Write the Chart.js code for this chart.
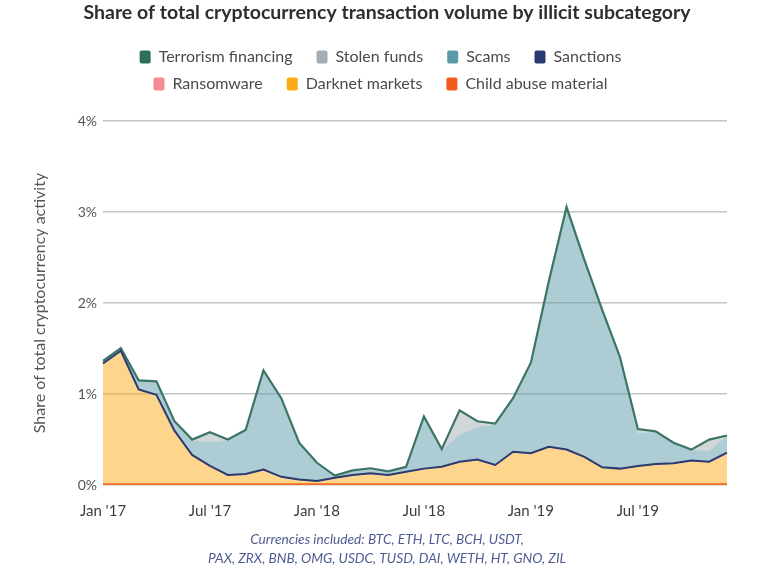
<!DOCTYPE html>
<html>
<head>
<meta charset="utf-8">
<script src="https://cdn.jsdelivr.net/npm/chart.js@4.4.1/dist/chart.umd.min.js"></script>
<style>
  html, body { margin: 0; padding: 0; background: #ffffff; }
  #wrap { width: 774px; height: 588px; position: relative; }
</style>
</head>
<body>
<div id="wrap"><canvas id="c" width="774" height="588"></canvas></div>
<script>
// ---------- DATA (% of total volume) ----------
const months = [
  "Jan '17","Feb '17","Mar '17","Apr '17","May '17","Jun '17","Jul '17","Aug '17","Sep '17","Oct '17","Nov '17","Dec '17",
  "Jan '18","Feb '18","Mar '18","Apr '18","May '18","Jun '18","Jul '18","Aug '18","Sep '18","Oct '18","Nov '18","Dec '18",
  "Jan '19","Feb '19","Mar '19","Apr '19","May '19","Jun '19","Jul '19","Aug '19","Sep '19","Oct '19","Nov '19","Dec '19"
];
const tickLabels = ["Jan '17", "Jul '17", "Jan '18", "Jul '18", "Jan '19", "Jul '19"];
const yTicks = [0, 1, 2, 3, 4];

const childAbuse = [0.005,0.005,0.005,0.005,0.005,0.005,0.005,0.005,0.005,0.005,0.005,0.005,
                    0.005,0.005,0.005,0.005,0.005,0.005,0.005,0.005,0.005,0.005,0.005,0.005,
                    0.005,0.005,0.005,0.005,0.005,0.005,0.005,0.005,0.005,0.005,0.005,0.005];
const darknet = [1.319,1.459,1.034,0.974,0.584,0.314,0.194,0.094,0.104,0.154,0.074,0.044,
                 0.029,0.064,0.094,0.112,0.094,0.130,0.164,0.184,0.240,0.264,0.204,0.350,
                 0.334,0.404,0.374,0.294,0.179,0.164,0.194,0.214,0.224,0.254,0.240,0.339];
const ransomware = [0.003,0.003,0.003,0.003,0.003,0.003,0.003,0.003,0.003,0.003,0.003,0.003,
                    0.003,0.003,0.003,0.003,0.003,0.003,0.003,0.003,0.003,0.003,0.003,0.003,
                    0.003,0.003,0.003,0.003,0.003,0.003,0.003,0.003,0.003,0.003,0.003,0.003];
const sanctions = [0.008,0.008,0.008,0.008,0.008,0.008,0.008,0.008,0.008,0.008,0.008,0.008,
                   0.008,0.008,0.008,0.008,0.008,0.008,0.008,0.008,0.008,0.008,0.008,0.008,
                   0.008,0.008,0.008,0.008,0.008,0.008,0.008,0.008,0.008,0.008,0.008,0.008];
const scams = [0.025,0.025,0.096,0.145,0.100,0.160,0.260,0.380,0.480,1.086,0.860,0.400,
               0.195,0.020,0.047,0.042,0.036,0.049,0.570,0.190,0.294,0.360,0.440,0.584,
               0.990,1.810,2.660,2.160,1.725,1.220,0.360,0.355,0.220,0.115,0.121,0.185];
const stolenFunds = [0,0,0,0,0,0.005,0.105,0.005,0,0,0,0,
                     0,0,0,0.010,0,0,0,0,0.266,0.056,0.010,0,
                     0,0,0,0,0,0,0.040,0,0,0,0.118,0];
const terrorism = [0.004,0.004,0.004,0.004,0.004,0.004,0.004,0.004,0.004,0.004,0.004,0.004,
                   0.004,0.004,0.004,0.004,0.004,0.004,0.004,0.004,0.004,0.004,0.004,0.004,
                   0.004,0.004,0.004,0.004,0.004,0.004,0.004,0.004,0.004,0.004,0.004,0.004];

const titleText = 'Share of total cryptocurrency transaction volume by illicit subcategory';
const yTitle = 'Share of total cryptocurrency activity';
const footLines = ['Currencies included: BTC, ETH, LTC, BCH, USDT,',
                   'PAX, ZRX, BNB, OMG, USDC, TUSD, DAI, WETH, HT, GNO, ZIL'];

// ---------- STYLES ----------
const C = {
  terror: '#2f6e5f', stolen: '#a4adb4', scams: '#5b9aa8', sanctions: '#273a72',
  ransom: '#f28b93', darknet: '#fbab19', child: '#f35b1c'
};
function alpha(hex, a) {
  const n = parseInt(hex.slice(1), 16);
  return `rgba(${(n >> 16) & 255},${(n >> 8) & 255},${n & 255},${a})`;
}

Chart.defaults.font.family = 'Lato, "Open Sans", "DejaVu Sans", sans-serif';

// stacking order: bottom -> top
const series = [
  { label: 'Child abuse material', data: childAbuse, color: C.child, line: '#f26a21', lw: 2.5 },
  { label: 'Darknet markets', data: darknet, color: C.darknet, line: null, lw: 0 },
  { label: 'Ransomware', data: ransomware, color: C.ransom, line: null, lw: 0 },
  { label: 'Sanctions', data: sanctions, color: C.sanctions, line: '#2d3a6e', lw: 2 },
  { label: 'Scams', data: scams, color: C.scams, line: null, lw: 0 },
  { label: 'Stolen funds', data: stolenFunds, color: C.stolen, line: null, lw: 0 },
  { label: 'Terrorism financing', data: terrorism, color: C.terror, line: '#3a7566', lw: 2.2 }
];

const datasets = series.map((s, i) => ({
  label: s.label,
  data: s.data,
  legendColor: s.color,
  backgroundColor: alpha(s.color, 0.5),
  borderColor: s.line || 'rgba(0,0,0,0)',
  borderWidth: s.lw,
  fill: i === 0 ? 'origin' : '-1',
  pointRadius: 0,
  pointHoverRadius: 0,
  tension: 0
}));

// Legend: two centred rows (4 + 3) with wider gaps between items than between rows.
const ROW_W = 580, LEGEND_EXTRA = 19, TEXT_GAP = 13;
function withGap(ctx, fn) {
  const m = ctx.measureText;
  ctx.measureText = function (t) { const r = m.call(ctx, t); return { width: r.width + TEXT_GAP }; };
  try { return fn(); } finally { delete ctx.measureText; if (ctx.measureText !== m) ctx.measureText = m; }
}
const legendWrap = {
  id: 'legendWrap',
  beforeLayout(chart) {
    const lg = chart.legend;
    if (!lg || lg.__wrapped) return;
    lg.__wrapped = true;
    const fitRows = lg._fitRows, draw = lg._draw;
    if (typeof fitRows === 'function') {
      lg._fitRows = function (...a) {
        const mw = this.maxWidth;
        this.maxWidth = Math.min(mw, ROW_W);
        const h = withGap(this.ctx, () => fitRows.apply(this, a));
        this.maxWidth = mw;
        return h + LEGEND_EXTRA;
      };
    }
    if (typeof draw === 'function') {
      lg._draw = function (...a) {
        const l = this.left, r = this.right, c = (l + r) / 2;
        this.left = c - ROW_W / 2; this.right = c + ROW_W / 2;
        try { return withGap(this.ctx, () => draw.apply(this, a)); }
        finally { this.left = l; this.right = r; }
      };
    }
  }
};

new Chart(document.getElementById('c'), {
  type: 'line',
  data: { labels: months, datasets },
  plugins: [legendWrap],
  options: {
    responsive: false,
    devicePixelRatio: 1,
    animation: false,
    layout: { padding: { left: 47, right: 47, top: 0, bottom: 0 } },
    interaction: { mode: 'index', intersect: false },
    plugins: {
      filler: { drawTime: 'beforeDatasetsDraw' },
      tooltip: { enabled: false },
      title: {
        display: true, text: titleText, color: '#2e2e2e',
        font: { size: 19.5, weight: 'bold', lineHeight: 1.2 },
        padding: { top: 0.8, bottom: 13.8 }
      },
      legend: {
        display: true, position: 'top', reverse: true,
        labels: {
          boxWidth: 11, boxHeight: 13, padding: 11, color: '#4a4a4a',
          useBorderRadius: true, borderRadius: 2,
          font: { size: 16 },
          generateLabels(chart) {
            return chart.data.datasets.map((ds, i) => ({
              text: ds.label, fillStyle: ds.legendColor, strokeStyle: ds.legendColor,
              lineWidth: 0, hidden: false, datasetIndex: i, borderRadius: 2, fontColor: '#4a4a4a'
            }));
          }
        }
      },
      subtitle: {
        display: true, position: 'bottom', text: footLines, color: '#4f5b93',
        font: { size: 13.7, style: 'italic', lineHeight: '19px' },
        padding: { top: 10.7, bottom: 19.5 }
      }
    },
    scales: {
      x: {
        afterFit(scale) { scale.height = 34.8; },
        grid: { display: false, drawTicks: false },
        border: { display: false },
        ticks: {
          autoSkip: false, maxRotation: 0, minRotation: 0, padding: 17,
          color: '#3d3d3d', font: { size: 15 },
          callback(v, i) { const l = months[i]; return tickLabels.includes(l) ? l : ''; }
        }
      },
      y: {
        stacked: true, min: 0, max: 4,
        afterBuildTicks(scale) { scale.ticks = yTicks.map(v => ({ value: v })); },
        afterFit(scale) { scale.width = 56; },
        border: { display: false },
        grid: { color: '#c4c4c4', lineWidth: 1.5, drawTicks: false },
        ticks: { padding: 6, color: '#555', font: { size: 14 }, callback: v => v + '%' },
        title: {
          display: true, text: yTitle, color: '#555', font: { size: 16 },
          padding: { top: -16.6, bottom: 0 }
        }
      }
    }
  }
});
</script>
</body>
</html>
